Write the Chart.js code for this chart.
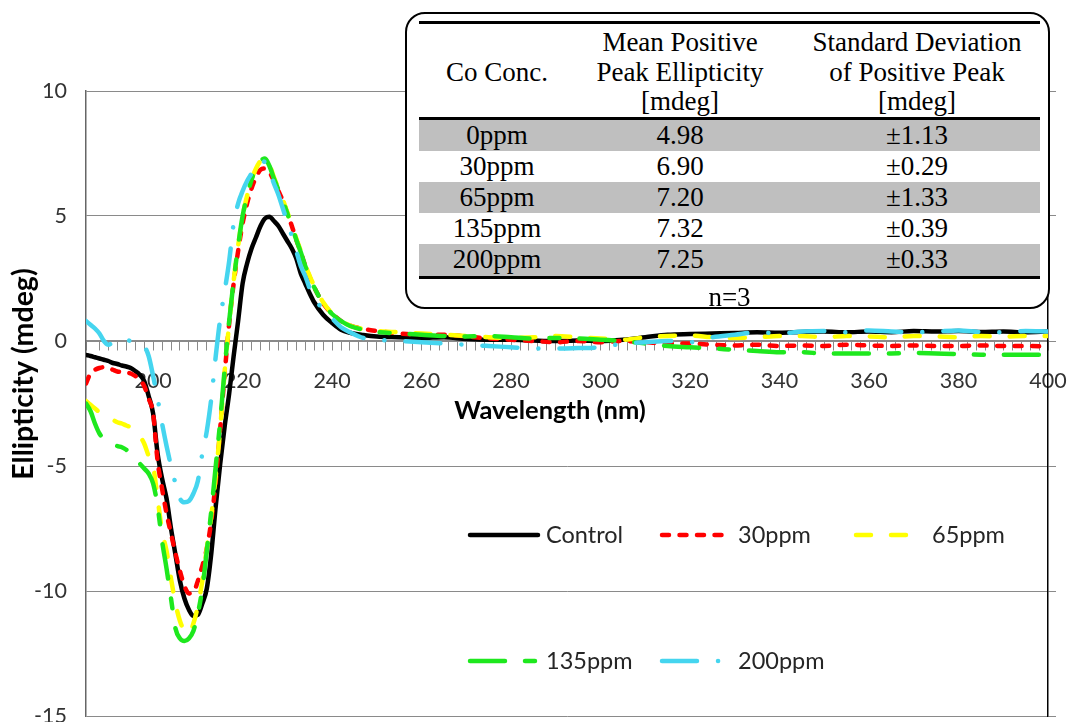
<!DOCTYPE html>
<html>
<head>
<meta charset="utf-8">
<script src="https://cdn.jsdelivr.net/npm/chart.js@4.4.1/dist/chart.umd.min.js"></script>
<style>
  body { margin: 0; background: #fff; }
  #wrap { position: relative; width: 1069px; height: 722px; }
  #cdChart { position: absolute; left: 0; top: 0; }
  #tbox {
    position: absolute; left: 405px; top: 12px; width: 645px; height: 297px;
    box-sizing: border-box; border: 2px solid #000; border-radius: 20px;
    background: #fff; overflow: hidden;
    font-family: "Liberation Serif", serif; font-size: 27px; color: #000;
  }
  #tbox table {
    position: absolute; left: 12px; top: 7px; width: 621px;
    border-collapse: separate; border-spacing: 0; table-layout: fixed;
  }
  #tbox th {
    font-weight: normal; line-height: 29.5px; padding: 4px 0 0 0;
    border-top: 3px solid #000; border-bottom: 3px solid #000;
    vertical-align: middle; text-align: center;
  }
  #tbox td { height: 31.2px; line-height: 31.2px; padding: 0; text-align: center; }
  #tbox tbody tr:nth-child(odd) td { background: #bfbfbf; }
  #tbox tbody tr:last-child td { border-bottom: 3px solid #000; }
  #tbox .c3 { padding-left: 9px; }
  #note { position: absolute; left: 12px; top: 268px; width: 621px; line-height: 30px; text-align: center; }
</style>
</head>
<body>
<div id="wrap">
  <canvas id="cdChart" width="1069" height="722"></canvas>
  <div id="tbox">
    <table>
      <colgroup><col style="width:156px"><col style="width:210px"><col style="width:255px"></colgroup>
      <thead><tr>
        <th>Co Conc.</th>
        <th>Mean Positive<br>Peak Ellipticity<br>[mdeg]</th>
        <th class="c3">Standard Deviation<br>of Positive Peak<br>[mdeg]</th>
      </tr></thead>
      <tbody id="tbody"></tbody>
    </table>
    <div id="note">n=3</div>
  </div>
</div>
<script>
// wavelength (nm)
const wavelength = [
  185,186,187,188,189,190,191,192,193,194,
  195,196,197,198,199,200,201,202,203,204,
  205,206,207,208,209,210,211,212,213,214,
  215,216,217,218,219,220,221,222,223,224,
  225,226,227,228,229,230,231,232,233,234,
  235,236,238,240,242,244,247,250,
  255,260,265,270,275,280,285,290,295,300,
  305,310,315,320,325,330,335,340,345,350,
  355,360,365,370,375,380,385,390,395,400
];

// ellipticity (mdeg)
const control = [
  -0.56,-0.6,-0.65,-0.7,-0.75,-0.8,-0.88,-0.92,-0.98,-1.02,
  -1.08,-1.2,-1.35,-1.6,-2.2,-2.9,-4.5,-5.5,-6.3,-7.5,
  -8.55,-9.6,-10.3,-10.75,-11.0,-10.95,-10.5,-9.9,-8.5,-6.6,
  -4.9,-3.4,-2.1,-0.6,0.8,2.3,3.1,3.7,4.15,4.6,
  4.9,4.97,4.8,4.6,4.3,4.0,3.7,3.3,2.7,2.3,
  1.9,1.55,1.05,0.72,0.45,0.33,0.24,0.18,
  0.15,0.12,0.15,0.08,0.05,0.05,0.02,0.0,0.02,0.0,
  0.05,0.15,0.25,0.28,0.3,0.32,0.35,0.33,0.36,0.38,
  0.35,0.38,0.35,0.4,0.38,0.4,0.36,0.38,0.35,0.38
];
const ppm30 = [
  -1.7,-1.3,-1.15,-1.08,-1.05,-1.08,-1.15,-1.22,-1.24,-1.26,
  -1.3,-1.4,-1.55,-1.8,-2.3,-2.9,-4.8,-5.9,-6.9,-7.7,
  -8.5,-9.2,-9.8,-10.1,-10.05,-9.6,-9.0,-8.3,-7.2,-5.6,
  -3.5,-1.3,0.7,2.3,3.6,4.7,5.5,6.1,6.55,6.85,
  6.9,6.75,6.4,6.0,5.6,5.1,4.6,4.05,3.55,3.0,
  2.55,2.15,1.5,1.1,0.8,0.62,0.48,0.4,
  0.3,0.25,0.25,0.18,0.1,0.05,0.0,-0.05,0.0,-0.05,
  0.0,-0.05,-0.1,-0.1,-0.15,-0.18,-0.15,-0.2,-0.18,-0.2,
  -0.15,-0.18,-0.2,-0.18,-0.2,-0.2,-0.18,-0.2,-0.2,-0.22
];
const ppm65 = [
  -2.4,-2.55,-2.7,-2.85,-2.95,-3.05,-3.15,-3.25,-3.3,-3.38,
  -3.45,-3.6,-3.8,-4.1,-4.6,-5.0,-6.3,-7.6,-8.4,-9.5,
  -10.5,-11.2,-11.6,-11.7,-11.3,-10.6,-9.6,-8.3,-7.0,-5.4,
  -3.5,-1.2,0.7,2.4,3.8,5.0,5.8,6.45,6.9,7.2,
  7.3,7.05,6.55,6.1,5.65,5.15,4.65,4.1,3.6,3.05,
  2.6,2.2,1.55,1.1,0.82,0.62,0.48,0.4,
  0.35,0.3,0.25,0.2,0.15,0.12,0.15,0.2,0.15,0.1,
  0.05,0.15,0.2,0.22,0.15,0.12,0.15,0.2,0.2,0.15,
  0.2,0.18,0.15,0.2,0.18,0.15,0.2,0.18,0.2,0.2
];
const ppm135 = [
  -2.5,-2.8,-3.3,-3.7,-3.9,-4.0,-4.1,-4.2,-4.25,-4.35,
  -4.5,-4.7,-4.9,-5.1,-5.3,-5.7,-6.6,-8.0,-9.1,-10.3,
  -11.5,-11.9,-12.0,-11.9,-11.6,-10.9,-9.9,-8.4,-6.8,-5.0,
  -3.2,-1.1,0.8,2.4,3.8,5.0,5.8,6.45,6.9,7.2,
  7.3,7.0,6.5,6.05,5.6,5.1,4.6,4.05,3.55,3.0,
  2.55,2.15,1.5,1.08,0.8,0.6,0.45,0.36,
  0.3,0.25,0.2,0.18,0.2,0.15,0.1,0.12,0.1,0.05,
  0.0,-0.1,-0.2,-0.25,-0.3,-0.35,-0.4,-0.45,-0.45,-0.5,
  -0.5,-0.5,-0.5,-0.48,-0.5,-0.52,-0.55,-0.55,-0.55,-0.55
];
const ppm200 = [
  0.8,0.65,0.5,0.3,0.0,-0.15,-0.05,0.05,0.12,0.05,
  0.0,-0.05,-0.05,-0.2,-0.6,-1.4,-2.3,-3.3,-4.2,-5.0,
  -5.7,-6.3,-6.45,-6.4,-6.1,-5.6,-4.5,-3.6,-2.3,-0.6,
  0.9,2.0,3.2,4.7,5.5,6.0,6.4,6.7,7.0,7.2,
  7.15,6.8,6.3,5.85,5.3,4.75,4.2,3.6,3.0,2.6,
  2.1,1.75,1.25,0.9,0.55,0.35,0.12,0.05,
  0.0,-0.05,-0.1,-0.15,-0.2,-0.25,-0.3,-0.3,-0.28,-0.25,
  -0.1,-0.05,0.0,-0.05,0.15,0.25,0.35,0.3,0.38,0.4,
  0.35,0.42,0.38,0.35,0.38,0.42,0.36,0.35,0.4,0.38
];

// inset table
const tableConc = ['0ppm', '30ppm', '65ppm', '135ppm', '200ppm'];
const tableMean = ['4.98', '6.90', '7.20', '7.32', '7.25'];
const tableSd = ['±1.13', '±0.29', '±1.33', '±0.39', '±0.33'];

const tbody = document.getElementById('tbody');
tableConc.forEach((c, i) => {
  const tr = document.createElement('tr');
  tr.innerHTML = `<td>${c}</td><td>${tableMean[i]}</td><td class="c3">${tableSd[i]}</td>`;
  tbody.appendChild(tr);
});

const pts = (ys) => wavelength.map((x, i) => ({ x: x, y: ys[i] }));

const lineStyle = {
  pointRadius: 0,
  borderWidth: 4.5,
  borderCapStyle: 'round',
  borderJoinStyle: 'round',
  cubicInterpolationMode: 'monotone',
  fill: false
};

// legend inside the plot, drawn with each dataset's own stroke
const insideLegend = {
  id: 'insideLegend',
  afterDatasetsDraw(chart, args, opts) {
    const ctx = chart.ctx;
    chart.data.datasets.forEach((ds, i) => {
      const p = opts.spots[i];
      ctx.save();
      ctx.strokeStyle = ds.borderColor;
      ctx.lineWidth = ds.borderWidth;
      ctx.lineCap = 'round';
      ctx.setLineDash(ds.borderDash || []);
      ctx.beginPath();
      ctx.moveTo(p[0], p[1]);
      ctx.lineTo(p[0] + opts.lineLength, p[1]);
      ctx.stroke();
      ctx.setLineDash([]);
      ctx.fillStyle = '#262626';
      ctx.font = opts.font;
      ctx.textBaseline = 'middle';
      ctx.fillText(ds.label, p[0] + opts.textOffset, p[1]);
      ctx.restore();
    });
  }
};

// axis titles sit off-centre in the original, so place them by hand
const axisTitles = {
  id: 'axisTitles',
  afterDraw(chart, args, opts) {
    const ctx = chart.ctx;
    ctx.save();
    ctx.fillStyle = '#000';
    ctx.textAlign = 'center';
    ctx.textBaseline = 'middle';
    ctx.font = opts.xFont;
    ctx.fillText(opts.xText, opts.xPos[0], opts.xPos[1]);
    ctx.translate(opts.yPos[0], opts.yPos[1]);
    ctx.rotate(-Math.PI / 2);
    ctx.font = opts.yFont;
    ctx.fillText(opts.yText, 0, 0);
    ctx.restore();
  }
};

const tickFont = { family: 'Lato', size: 21.5 };

new Chart(document.getElementById('cdChart'), {
  type: 'line',
  data: {
    datasets: [
      { label: 'Control', data: pts(control), borderColor: '#000000', order: 5, ...lineStyle },
      { label: '30ppm', data: pts(ppm30), borderColor: '#ff0000', borderDash: [7, 10.5], order: 4, ...lineStyle },
      { label: '65ppm', data: pts(ppm65), borderColor: '#ffff00', borderDash: [15, 20], order: 3, ...lineStyle },
      { label: '135ppm', data: pts(ppm135), borderColor: '#1ee81e', borderDash: [35, 20, 10, 20], order: 2, ...lineStyle },
      { label: '200ppm', data: pts(ppm200), borderColor: '#45d5ef', borderDash: [35, 21, 0.1, 21], order: 1, ...lineStyle }
    ]
  },
  options: {
    responsive: false,
    animation: false,
    devicePixelRatio: 1,
    layout: { padding: { top: 91, bottom: 6, left: 0, right: 0 } },
    plugins: {
      legend: { display: false },
      tooltip: { enabled: false },
      insideLegend: {
        spots: [[470, 535], [662, 535], [856, 535], [470, 661], [662, 661]],
        lineLength: 68,
        textOffset: 76,
        font: '23.5px Lato'
      },
      axisTitles: {
        xText: 'Wavelength (nm)',
        xPos: [550, 411],
        xFont: 'bold 25.5px Lato',
        yText: 'Ellipticity (mdeg)',
        yPos: [24, 374],
        yFont: 'bold 28.5px Lato'
      }
    },
    scales: {
      x: {
        type: 'linear',
        min: 185,
        max: 400,
        position: { y: 0 },
        ticks: {
          stepSize: 2,
          autoSkip: false,
          maxRotation: 0,
          padding: 18,
          font: tickFont,
          color: '#333',
          callback: (v) => (v % 20 === 0 ? v : '')
        },
        grid: { drawOnChartArea: false, tickLength: 9, color: '#8a8a8a' },
        border: { color: '#8a8a8a', width: 1.5 },
        afterFit: (s) => { s.paddingLeft = 0; s.paddingRight = 0; }
      },
      y: {
        min: -15,
        max: 10,
        ticks: { stepSize: 5, padding: 19, font: tickFont, color: '#333' },
        grid: { drawTicks: false, color: '#8a8a8a' },
        border: { color: '#666', width: 1.5 },
        afterFit: (s) => { s.width = 86; s.paddingTop = 0; s.paddingBottom = 0; }
      },
      y2: {
        position: 'right',
        min: -15,
        max: 10,
        ticks: { stepSize: 5, display: false },
        grid: { drawOnChartArea: false, tickLength: 8, color: '#8a8a8a' },
        border: { color: '#000', width: 1.5 },
        afterFit: (s) => { s.width = 21; s.paddingTop = 0; s.paddingBottom = 0; }
      }
    }
  },
  plugins: [insideLegend, axisTitles]
});
</script>
</body>
</html>
